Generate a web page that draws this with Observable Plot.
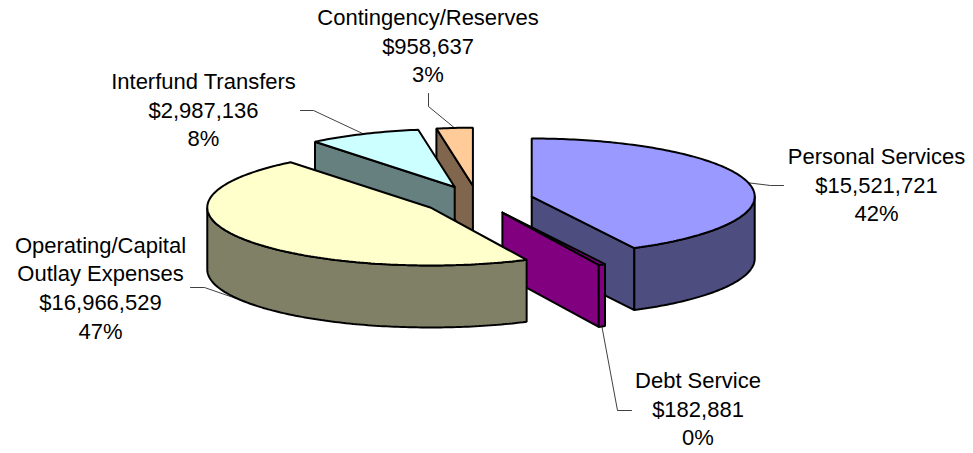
<!DOCTYPE html>
<html>
<head>
<meta charset="utf-8">
<style>html,body{margin:0;padding:0;background:#fff}</style>
<script src="https://cdn.jsdelivr.net/npm/d3@7"></script>
<script src="https://cdn.jsdelivr.net/npm/@observablehq/plot@0.6"></script>
</head>
<body>
<script>
// Budget categories in drawing sequence, clockwise from twelve o'clock
const categories = ["Personal Services", "Debt Service", "Operating/Capital\nOutlay Expenses", "Interfund Transfers", "Contingency/Reserves"];
const amounts = [15521721, 182881, 16966529, 2987136, 958637];
const percentLabels = ["42%", "0%", "47%", "8%", "3%"];
const topColors = ["#9999FF", "#800080", "#FFFFCC", "#CCFFFF", "#FFCC99"];
const wallColors = ["#4D4D80", "#800080", "#808066", "#668080", "#80664D"];

// Pie projection: tilted ellipse with an extruded rim
const W = 973, H = 453;
const cx = 477, cy = 199.4, rx = 223, ry = 58, depth = 62;
const explodeX = 55.8, explodeY = 14.2;

const total = d3.sum(amounts);
let running = 0;
const slices = amounts.map((v, i) => {
  const a0 = running / total * 360;
  running += v;
  const a1 = running / total * 360;
  const mid = (a0 + a1) / 2, r = d => d * Math.PI / 180;
  const ox = cx + explodeX * Math.sin(r(mid));
  const oy = cy - explodeY * Math.cos(r(mid));
  const rim = (a, dz = 0) => ({x: ox + rx * Math.sin(r(a)), y: oy - ry * Math.cos(r(a)) + dz});
  return {i, a0, a1, mid, ox, oy, rim};
});

function arc(s, from, to, dz = 0) {
  const n = Math.max(2, Math.ceil(Math.abs(to - from)));
  return d3.range(n + 1).map(k => s.rim(from + (to - from) * k / n, dz));
}
const closed = pts => [...pts, pts[0]];
const face = (pts, fill) => Plot.line(closed(pts), {x: "x", y: "y", fill, stroke: "#000", strokeWidth: 2, strokeLinejoin: "miter", curve: "linear"});

// Radial wall on the edge that faces the viewer, at the given angle
function radialWall(s, a) {
  const c = {x: s.ox, y: s.oy};
  return face([c, s.rim(a), s.rim(a, depth), {x: c.x, y: c.y + depth}], wallColors[s.i]);
}
function outerWall(s) {
  const from = Math.max(s.a0, 90), to = Math.min(s.a1, 270);
  if (to <= from) return null;
  return face([...arc(s, from, to), ...arc(s, to, from, depth)], wallColors[s.i]);
}
const topFace = s => face([{x: s.ox, y: s.oy}, ...arc(s, s.a0, s.a1)], topColors[s.i]);

const [personal, debt, operating, interfund, contingency] = slices;
const sliceMarks = [
  radialWall(personal, personal.a1), outerWall(personal), topFace(personal),
  radialWall(debt, debt.a1), outerWall(debt), topFace(debt),
  radialWall(contingency, contingency.a0), topFace(contingency),
  radialWall(interfund, interfund.a0), topFace(interfund),
  outerWall(operating), topFace(operating)
];

// Label placement and leader elbows, one entry per category
const labelX = [876, 697.5, 100, 203, 427.5];
const labelY = [183, 407, 286, 108, 44];
const leaderBends = [
  [[770, 185], [783, 185]],
  [[617, 410], [631, 410]],
  [[204, 287], [190, 287]],
  [[313, 110], [300, 110]],
  [[428, 106], [428, 93]]
];
const leaderMarks = slices.map(s => {
  const front = s.mid > 90 && s.mid < 270;
  return Plot.line([s.rim(s.mid, front ? depth : 0), ...leaderBends[s.i].map(([x, y]) => ({x, y}))],
    {x: "x", y: "y", stroke: "#000", strokeWidth: 0.75, curve: "linear"});
});

const fmt = d3.format("$,");
const labels = slices.map(s => ({
  x: labelX[s.i], y: labelY[s.i],
  text: `${categories[s.i]}\n${fmt(amounts[s.i])}\n${percentLabels[s.i]}`
}));

document.body.append(Plot.plot({
  width: W, height: H,
  margin: 0,
  x: {domain: [0, W], range: [0, W], axis: null},
  y: {domain: [0, H], range: [0, H], axis: null},
  style: {fontFamily: "'Liberation Sans', Arial, sans-serif", background: "#fff"},
  marks: [
    ...leaderMarks,
    ...sliceMarks.filter(Boolean),
    Plot.text(labels, {x: "x", y: "y", text: "text", fontSize: 22, lineHeight: 1.3, fill: "#000", textAnchor: "middle", lineAnchor: "middle"})
  ]
}));
</script>
</body>
</html>
